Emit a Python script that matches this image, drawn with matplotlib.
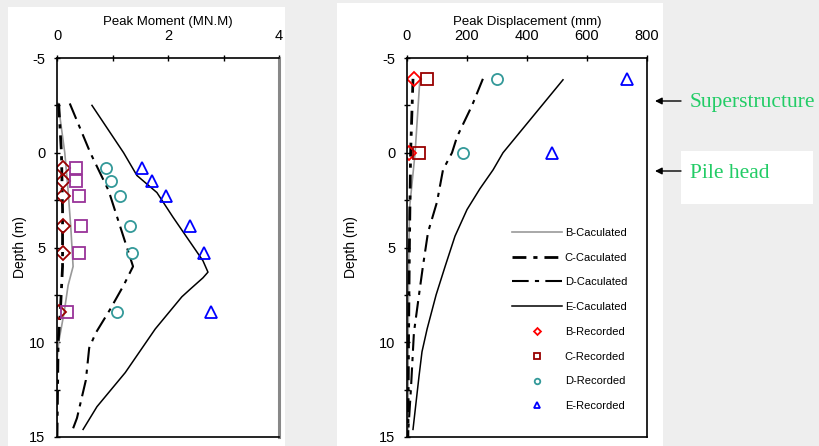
import numpy as np
import matplotlib
matplotlib.use("Agg")
import matplotlib.pyplot as plt
from matplotlib.patches import Rectangle
from matplotlib.ticker import MultipleLocator

plt.rcParams['font.family'] = ['Liberation Sans', 'DejaVu Sans']
plt.rcParams['axes.unicode_minus'] = False

# ---- left panel: peak moment (MN.m) vs depth (m)
mB_depth = [-2.6, 0, 2, 4, 6, 7, 8.4, 10, 11, 15]
mB_val = [0.02, 0.14, 0.2, 0.25, 0.29, 0.2, 0.13, 0.03, 0.0, 0.0]
mC_depth = [-2.6, 0, 3, 6, 8.4, 10, 15]
mC_val = [0.03, 0.08, 0.1, 0.1, 0.06, 0.02, 0.0]
mD_depth = [-2.6, 0, 2, 4, 6, 7, 8.3, 9.5, 10.3, 12, 14, 14.7]
mD_val = [0.23, 0.6, 0.93, 1.15, 1.37, 1.2, 0.95, 0.7, 0.58, 0.52, 0.36, 0.27]
mE_depth = [-2.5, 0, 1.2, 2.1, 3.4, 5.7, 6.3, 6.6, 7.2, 7.6, 9.3, 11.6, 13.4, 14.6]
mE_val = [0.63, 1.2, 1.44, 1.8, 2.09, 2.63, 2.72, 2.63, 2.4, 2.25, 1.77, 1.23, 0.72, 0.47]

rec_depth = [0.8, 1.5, 2.3, 3.85, 5.3, 8.4]
mB_rec = [0.11, 0.11, 0.11, 0.11, 0.11, 0.04]
mC_rec = [0.34, 0.34, 0.4, 0.43, 0.4, 0.18]
mD_rec = [0.88, 0.97, 1.13, 1.32, 1.36, 1.08]
mE_rec = [1.53, 1.72, 1.97, 2.4, 2.64, 2.77]

# ---- right panel: peak displacement (mm) vs depth (m)
dB_depth = [-3.9, 0, 3, 7, 15]
dB_val = [43, 27, 8, 5, 3]
dC_depth = [-3.9, 0, 5, 10, 15]
dC_val = [20, 12, 8, 5, 3]
dD_depth = [-3.9, -2.5, -0.85, 0, 0.9, 2.6, 4.2, 6.0, 7.5, 9.5, 12.5, 14.5]
dD_val = [253, 217, 167, 150, 120, 100, 70, 53, 40, 23, 13, 5]
dE_depth = [-3.85, 0, 0.9, 1.9, 3.0, 4.4, 6.0, 7.5, 9.3, 10.5, 11.8, 14.6]
dE_val = [520, 320, 287, 243, 200, 160, 127, 97, 67, 50, 40, 20]

drec_depth = [-3.9, 0]
dB_rec = [23, 7]
dC_rec = [67, 40]
dD_rec = [300, 187]
dE_rec = [733, 483]

W, H = 820, 446
fig = plt.figure(figsize=(W / 100, H / 100), dpi=100, facecolor='#eeeeee')

# white backing boxes like the pasted slide
for (x0, y0, x1, y1) in [(8, 7, 285, 446), (337, 3, 663, 446), (681, 151, 813, 204)]:
    fig.patches.append(Rectangle((x0 / W, 1 - y1 / H), (x1 - x0) / W, (y1 - y0) / H,
                                 transform=fig.transFigure, facecolor='white',
                                 edgecolor='none', zorder=-5))

axL = fig.add_axes([57 / W, (H - 437) / H, (279 - 57) / W, (437 - 58) / H])
axR = fig.add_axes([407 / W, (H - 437) / H, (647 - 407) / W, (437 - 58) / H])

c_dash = (0, (5, 2.5, 1.5, 2.5))
d_dash = (0, (8, 3, 2, 3))


def style(ax, xmax, xmaj, xmin, label, ylabpad):
    ax.set_xlim(0, xmax)
    ax.set_ylim(15, -5)
    ax.xaxis.tick_top()
    ax.xaxis.set_label_position('top')
    ax.xaxis.set_major_locator(MultipleLocator(xmaj))
    if xmin:
        ax.xaxis.set_minor_locator(MultipleLocator(xmin))
    ax.yaxis.set_major_locator(MultipleLocator(5))
    ax.yaxis.set_minor_locator(MultipleLocator(2.5))
    ax.tick_params(which='both', direction='inout', length=5, width=1, labelsize=10.5)
    ax.tick_params(which='minor', length=4)
    ax.tick_params(axis='x', pad=8)
    ax.tick_params(axis='y', pad=6)
    ax.set_xlabel(label, fontsize=9.5, labelpad=3)
    ax.set_ylabel('Depth (m)', fontsize=10, labelpad=ylabpad)
    for s in ax.spines.values():
        s.set_linewidth(1.2)


# left
axL.plot(mB_val, mB_depth, color='#999999', lw=1.2)
axL.plot(mC_val, mC_depth, color='black', lw=2, linestyle=c_dash)
axL.plot(mD_val, mD_depth, color='black', lw=1.5, linestyle=d_dash)
axL.plot(mE_val, mE_depth, color='black', lw=1.1)
axL.plot(mB_rec, rec_depth, 'D', ms=7, mfc='none', mec='#990000', mew=1.3, ls='none')
axL.plot(mC_rec, rec_depth, 's', ms=8, mfc='none', mec='#993399', mew=1.3, ls='none')
axL.plot(mD_rec, rec_depth, 'o', ms=8, mfc='none', mec='#339999', mew=1.3, ls='none')
axL.plot(mE_rec, rec_depth, '^', ms=9, mfc='none', mec='#0000ff', mew=1.3, ls='none')
style(axL, 4, 2, 1, 'Peak Moment (MN.M)', 1)
axL.spines['right'].set_color('#888888')
axL.spines['right'].set_linewidth(2.2)

# right
axR.plot(dB_val, dB_depth, color='#999999', lw=1.2, label='B-Caculated')
axR.plot(dC_val, dC_depth, color='black', lw=2, linestyle=c_dash, label='C-Caculated')
axR.plot(dD_val, dD_depth, color='black', lw=1.5, linestyle=d_dash, label='D-Caculated')
axR.plot(dE_val, dE_depth, color='black', lw=1.1, label='E-Caculated')
axR.plot(dB_rec, drec_depth, 'D', ms=7, mfc='none', mec='#ff0000', mew=1.3, ls='none', label='B-Recorded')
axR.plot(dC_rec, drec_depth, 's', ms=8, mfc='none', mec='#990000', mew=1.3, ls='none', label='C-Recorded')
axR.plot(dD_rec, drec_depth, 'o', ms=8, mfc='none', mec='#339999', mew=1.3, ls='none', label='D-Recorded')
axR.plot(dE_rec, drec_depth, '^', ms=9, mfc='none', mec='#0000ff', mew=1.3, ls='none', label='E-Recorded')
style(axR, 800, 200, None, 'Peak Displacement (mm)', 15)

axR.legend(loc='center left', bbox_to_anchor=(0.4375, 0.31), frameon=False,
           fontsize=8, handlelength=4.5, handletextpad=0.25, labelspacing=1.33,
           borderpad=0, borderaxespad=0, markerscale=0.5, numpoints=1)

# side notes with arrows
for txt, ypx in [('Superstructure', 101), ('Pile head', 171)]:
    fig.add_artist(plt.Annotation('', xy=(655 / W, 1 - ypx / H), xytext=(681 / W, 1 - ypx / H),
                                  xycoords='figure fraction', textcoords='figure fraction',
                                  arrowprops=dict(arrowstyle='-|>', color='black', lw=1,
                                                  mutation_scale=10, shrinkA=0, shrinkB=0)))
    fig.text(690 / W, 1 - (ypx + 2) / H, txt, fontsize=15.5, color='#22cc66',
             family=['Liberation Serif', 'DejaVu Serif'], va='center', ha='left')

fig.savefig('out.png', dpi=100, facecolor=fig.get_facecolor())
